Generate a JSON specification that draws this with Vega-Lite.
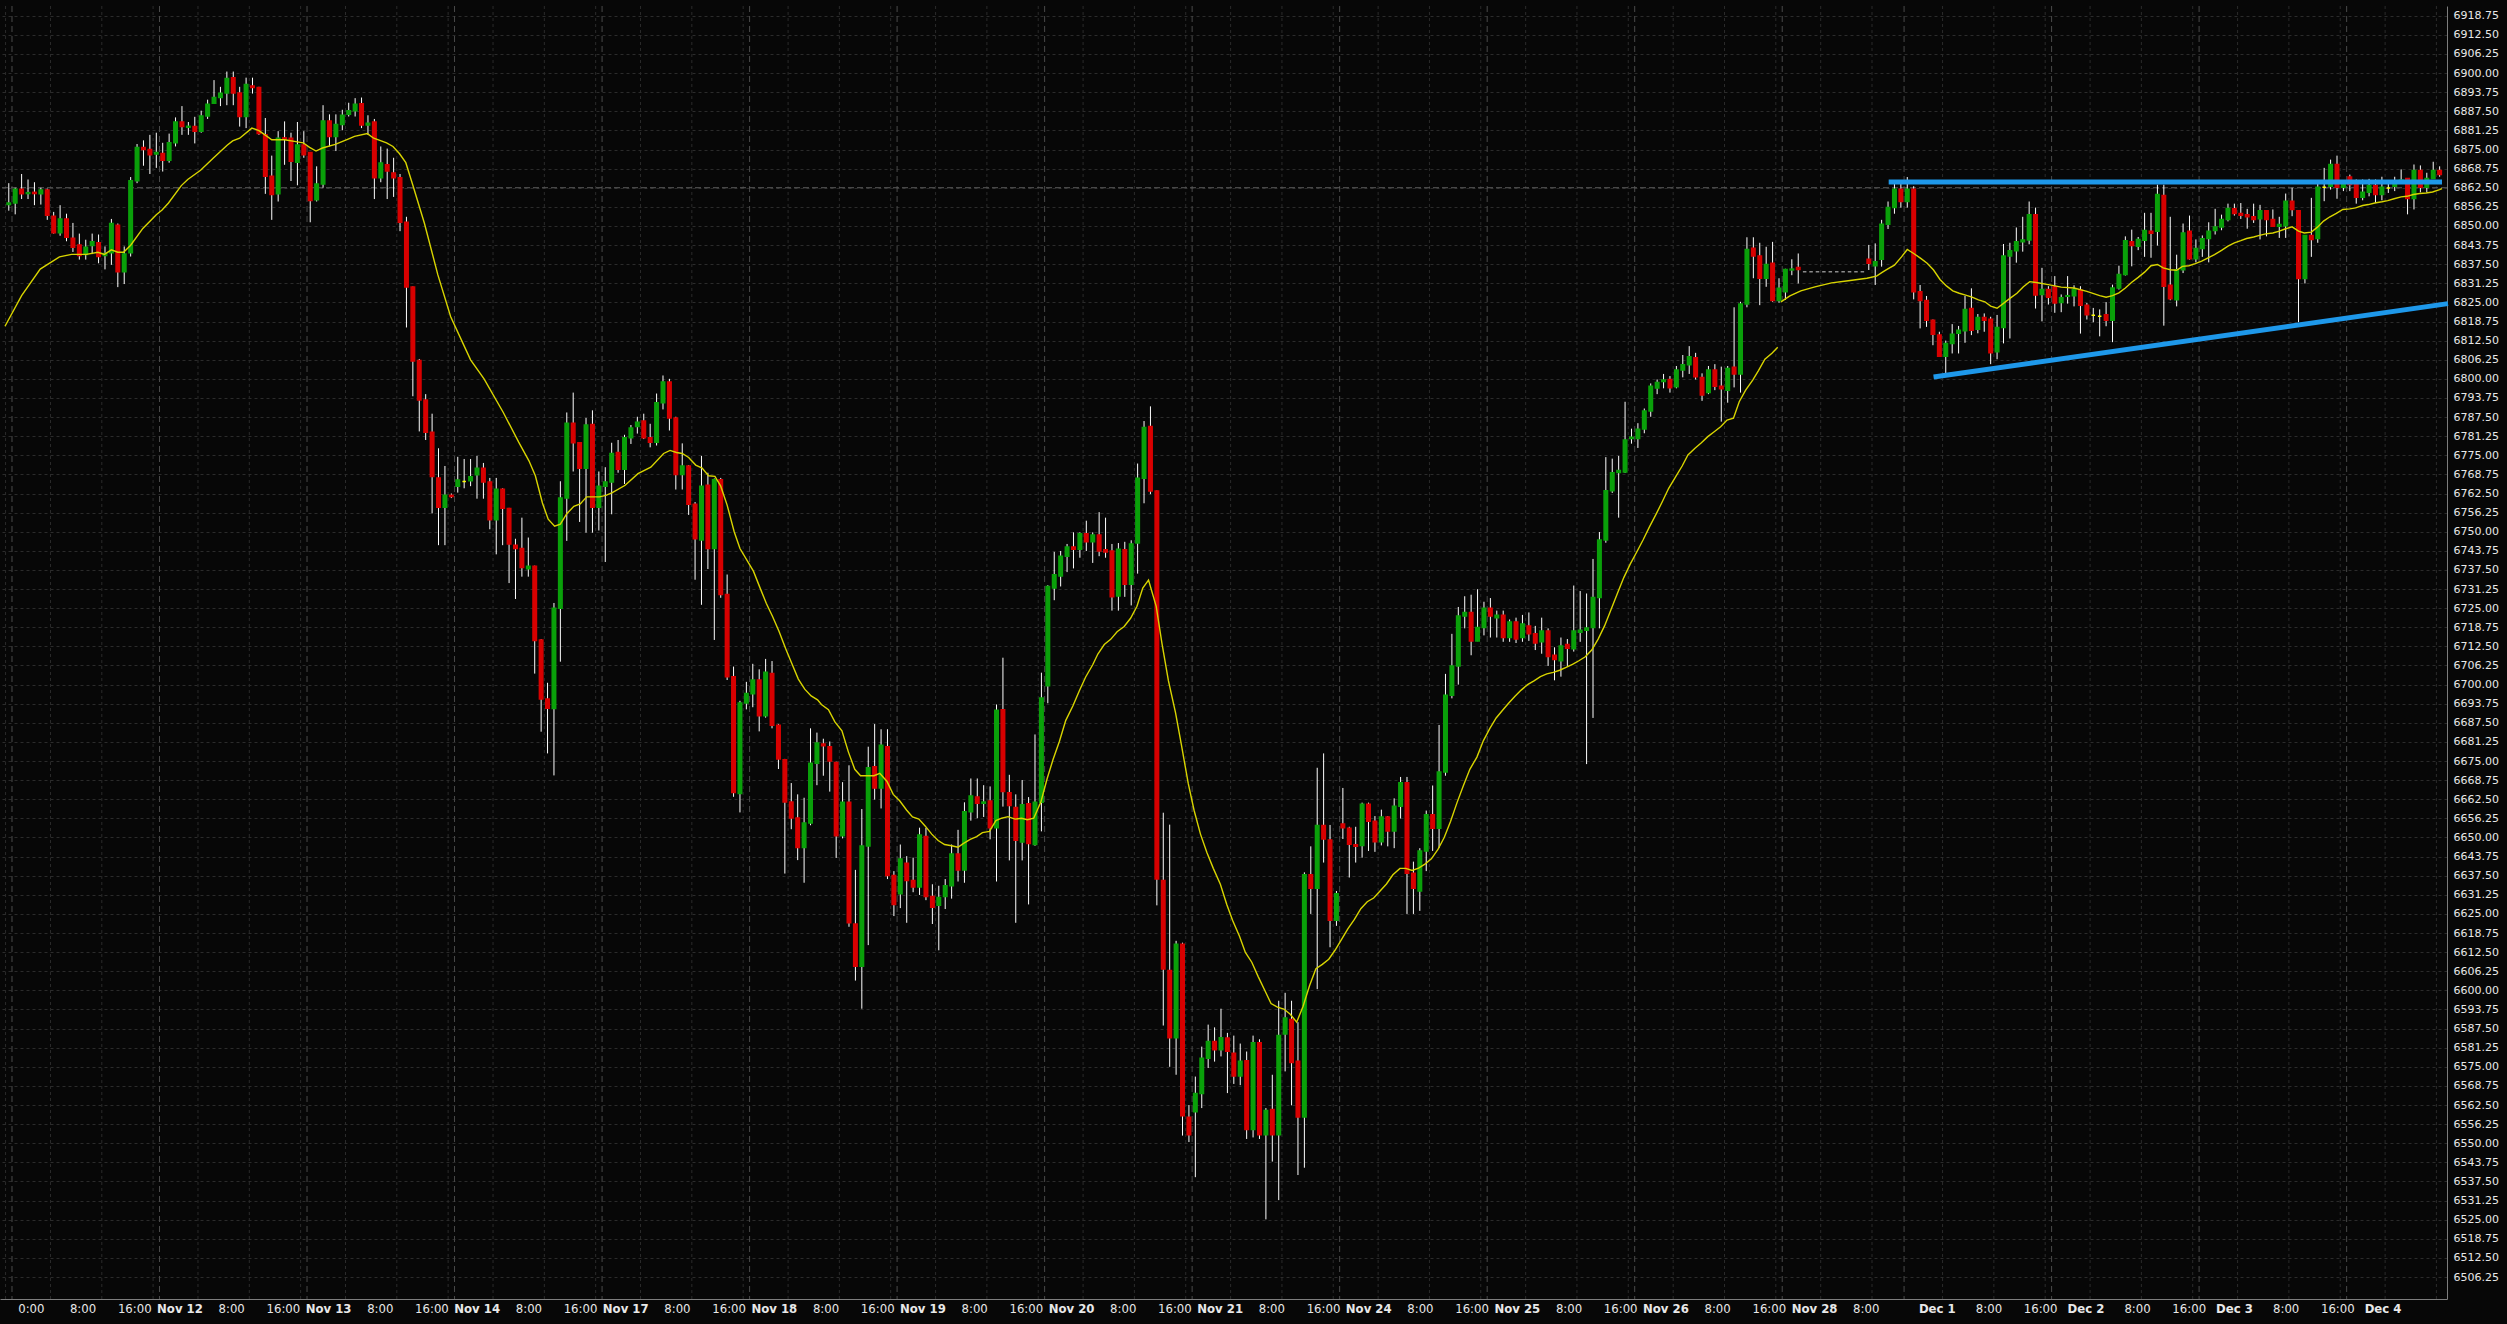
{
"$schema": "https://vega.github.io/schema/vega-lite/v6.json",
"width": 2447, "height": 1293,
"autosize": {"type": "none"},
"padding": {"left": 0, "top": 6, "right": 60, "bottom": 25},
"background": "#070707",
"config": {"view": {"stroke": null}, "axis": {"title": null}},
"params": [{"name": "xl", "value": {"3.44":"0:00","11.5":"8:00","19.56":"16:00","26.61":"Nov 12","34.67":"8:00","42.73":"16:00","49.78":"Nov 13","57.84":"8:00","65.9":"16:00","72.95":"Nov 14","81.01":"8:00","89.06":"16:00","96.11":"Nov 17","104.17":"8:00","112.23":"16:00","119.28":"Nov 18","127.34":"8:00","135.4":"16:00","142.45":"Nov 19","150.51":"8:00","158.57":"16:00","165.62":"Nov 20","173.68":"8:00","181.73":"16:00","188.79":"Nov 21","196.85":"8:00","204.9":"16:00","211.95":"Nov 24","220.01":"8:00","228.07":"16:00","235.12":"Nov 25","243.18":"8:00","251.24":"16:00","258.29":"Nov 26","266.35":"8:00","274.41":"16:00","281.46":"Nov 28","289.52":"8:00","300.6":"Dec 1","308.66":"8:00","316.71":"16:00","323.77":"Dec 2","331.82":"8:00","339.88":"16:00","346.93":"Dec 3","354.99":"8:00","363.05":"16:00","370.1":"Dec 4"}}],
"datasets": {
"days": [{"k":0.5},{"k":23.5},{"k":46.5},{"k":69.5},{"k":92.5},{"k":115.5},{"k":138.5},{"k":161.5},{"k":184.5},{"k":207.5},{"k":230.5},{"k":253.5},{"k":276.5},{"k":295.5},{"k":318.5},{"k":341.5},{"k":364.5}],
"fine": [{"k":-0.5},{"k":6.5},{"k":14.5},{"k":22.5},{"k":29.5},{"k":37.5},{"k":45.5},{"k":52.5},{"k":60.5},{"k":68.5},{"k":75.5},{"k":83.5},{"k":91.5},{"k":98.5},{"k":106.5},{"k":114.5},{"k":121.5},{"k":129.5},{"k":137.5},{"k":144.5},{"k":152.5},{"k":160.5},{"k":167.5},{"k":175.5},{"k":183.5},{"k":190.5},{"k":198.5},{"k":206.5},{"k":213.5},{"k":221.5},{"k":229.5},{"k":236.5},{"k":244.5},{"k":252.5},{"k":259.5},{"k":267.5},{"k":275.5},{"k":282.5},{"k":290.5},{"k":301.5},{"k":309.5},{"k":317.5},{"k":324.5},{"k":332.5},{"k":340.5},{"k":347.5},{"k":355.5},{"k":363.5},{"k":370.5},{"k":378.5}],
"trend": [{"g":"top","k":293.1,"p":6864.4},{"g":"top","k":379.37,"p":6864.4},{"g":"up","k":300.1,"p":6800.6},{"g":"up","k":380.3,"p":6824.6}],
"ohlc": [
{"k":0,"o":6857,"h":6864,"l":6855,"c":6857.5},
{"k":1,"o":6857.5,"h":6862.5,"l":6853.8,"c":6862},
{"k":2,"o":6862,"h":6867,"l":6858.8,"c":6860.5},
{"k":3,"o":6860.6,"h":6865.2,"l":6858.8,"c":6860.9},
{"k":4,"o":6861,"h":6864.3,"l":6856.8,"c":6860.6},
{"k":5,"o":6860.5,"h":6862.5,"l":6857,"c":6861.8},
{"k":6,"o":6861.8,"h":6862.2,"l":6852,"c":6853.5},
{"k":7,"o":6853.2,"h":6854.6,"l":6847.5,"c":6847.8},
{"k":8,"o":6847.8,"h":6856.8,"l":6846.8,"c":6852.3},
{"k":9,"o":6852.3,"h":6854,"l":6845,"c":6846.3},
{"k":10,"o":6846,"h":6851,"l":6841.5,"c":6843},
{"k":11,"o":6843.8,"h":6847.5,"l":6839,"c":6840.3},
{"k":12,"o":6840.7,"h":6845.5,"l":6839,"c":6843},
{"k":13,"o":6843.6,"h":6847.5,"l":6840.8,"c":6844.8},
{"k":14,"o":6844.5,"h":6847.2,"l":6837.8,"c":6840},
{"k":15,"o":6840.3,"h":6843.3,"l":6835.8,"c":6841},
{"k":16,"o":6841.2,"h":6852.3,"l":6837.3,"c":6850.8},
{"k":17,"o":6850.2,"h":6850.8,"l":6830,"c":6835},
{"k":18,"o":6835,"h":6843.3,"l":6831,"c":6840.8},
{"k":19,"o":6841.2,"h":6866,"l":6840,"c":6864.8},
{"k":20,"o":6864.8,"h":6876.8,"l":6864,"c":6875.7},
{"k":21,"o":6875.7,"h":6878,"l":6869.7,"c":6875},
{"k":22,"o":6875,"h":6879.8,"l":6867,"c":6873.3},
{"k":23,"o":6873.5,"h":6880.5,"l":6869,"c":6874},
{"k":24,"o":6873.7,"h":6877.2,"l":6867.8,"c":6871.5},
{"k":25,"o":6871.5,"h":6880.2,"l":6870.7,"c":6877.2},
{"k":26,"o":6877.2,"h":6885.5,"l":6876,"c":6884},
{"k":27,"o":6884,"h":6889.2,"l":6879.8,"c":6882.5},
{"k":28,"o":6882.3,"h":6884,"l":6879.8,"c":6882.6},
{"k":29,"o":6882.5,"h":6885.7,"l":6877,"c":6881},
{"k":30,"o":6881,"h":6887.7,"l":6880.5,"c":6886},
{"k":31,"o":6886,"h":6891.3,"l":6885,"c":6889.8},
{"k":32,"o":6890.1,"h":6897.7,"l":6890,"c":6892},
{"k":33,"o":6892,"h":6895.5,"l":6889.2,"c":6893.4},
{"k":34,"o":6893.5,"h":6900.5,"l":6889.5,"c":6898.2},
{"k":35,"o":6898.5,"h":6900.5,"l":6889.5,"c":6893.5},
{"k":36,"o":6893.5,"h":6895.5,"l":6882.5,"c":6885.8},
{"k":37,"o":6885.8,"h":6898.5,"l":6882,"c":6896.3},
{"k":38,"o":6895.8,"h":6898.5,"l":6893.3,"c":6895.3},
{"k":39,"o":6895.3,"h":6895.5,"l":6879.8,"c":6880.2},
{"k":40,"o":6879.8,"h":6885.3,"l":6860.5,"c":6866.3},
{"k":41,"o":6866.3,"h":6873,"l":6852,"c":6860.3},
{"k":42,"o":6860.5,"h":6881,"l":6858,"c":6878.7},
{"k":43,"o":6878.8,"h":6884.2,"l":6870,"c":6878.5},
{"k":44,"o":6878.7,"h":6880.5,"l":6864.7,"c":6871.2},
{"k":45,"o":6870.8,"h":6884,"l":6863.3,"c":6876.5},
{"k":46,"o":6876.5,"h":6881,"l":6872.3,"c":6873.3},
{"k":47,"o":6874,"h":6874.2,"l":6851.2,"c":6858.3},
{"k":48,"o":6858.6,"h":6869.5,"l":6858,"c":6863.7},
{"k":49,"o":6863.7,"h":6889.5,"l":6862.5,"c":6884.3},
{"k":50,"o":6884.3,"h":6886.5,"l":6876,"c":6879.3},
{"k":51,"o":6879.3,"h":6886.5,"l":6874.5,"c":6883.2},
{"k":52,"o":6883.2,"h":6888,"l":6881.3,"c":6886.2},
{"k":53,"o":6886.5,"h":6890.3,"l":6885.8,"c":6887.7},
{"k":54,"o":6887.7,"h":6891.8,"l":6885.8,"c":6889.8},
{"k":55,"o":6890,"h":6892,"l":6882,"c":6883},
{"k":56,"o":6883,"h":6886.2,"l":6879.8,"c":6883.6},
{"k":57,"o":6884,"h":6885,"l":6858.8,"c":6865.8},
{"k":58,"o":6865.8,"h":6876,"l":6864.3,"c":6870.6},
{"k":59,"o":6870,"h":6875.3,"l":6858.8,"c":6868},
{"k":60,"o":6867.3,"h":6872.3,"l":6859.5,"c":6865.8},
{"k":61,"o":6865.8,"h":6867,"l":6848.3,"c":6851.2},
{"k":62,"o":6851.2,"h":6853,"l":6816.8,"c":6830},
{"k":63,"o":6830,"h":6830.2,"l":6794.3,"c":6805.8},
{"k":64,"o":6806,"h":6806.5,"l":6782.8,"c":6793.1},
{"k":65,"o":6793.1,"h":6795,"l":6780,"c":6782.5},
{"k":66,"o":6782.5,"h":6788.6,"l":6756,"c":6768.1},
{"k":67,"o":6767.6,"h":6777.3,"l":6745.6,"c":6758},
{"k":68,"o":6758,"h":6771.5,"l":6745.6,"c":6761.9},
{"k":69,"o":6761.9,"h":6762.5,"l":6761,"c":6761.5},
{"k":70,"o":6764.9,"h":6774.5,"l":6762.8,"c":6766.9},
{"k":71,"o":6766.4,"h":6773.8,"l":6764.2,"c":6766.4},
{"k":72,"o":6766.7,"h":6773.8,"l":6764.9,"c":6768},
{"k":73,"o":6768.6,"h":6774.8,"l":6760.8,"c":6770.8},
{"k":74,"o":6770.8,"h":6772.5,"l":6760.8,"c":6766.3},
{"k":75,"o":6766.3,"h":6767.6,"l":6750.8,"c":6753.9},
{"k":76,"o":6753.9,"h":6767.6,"l":6742.6,"c":6763.9},
{"k":77,"o":6763.9,"h":6764.2,"l":6745.6,"c":6757.7},
{"k":78,"o":6757.6,"h":6757.8,"l":6733.2,"c":6746},
{"k":79,"o":6745.6,"h":6747.7,"l":6728,"c":6744.5},
{"k":80,"o":6744.5,"h":6754.6,"l":6735.3,"c":6738.3},
{"k":81,"o":6737.9,"h":6748.1,"l":6735.3,"c":6738.7},
{"k":82,"o":6738.7,"h":6738.9,"l":6703.6,"c":6714.4},
{"k":83,"o":6714.6,"h":6714.9,"l":6684.6,"c":6695.3},
{"k":84,"o":6695.3,"h":6700.6,"l":6677.5,"c":6692.3},
{"k":85,"o":6692.2,"h":6726.7,"l":6670.3,"c":6725},
{"k":86,"o":6725,"h":6766.5,"l":6707.5,"c":6761},
{"k":87,"o":6761,"h":6789,"l":6747,"c":6785.5},
{"k":88,"o":6785.5,"h":6795.5,"l":6769.7,"c":6779.1},
{"k":89,"o":6779.1,"h":6779.3,"l":6753.2,"c":6770.8},
{"k":90,"o":6770.8,"h":6787.2,"l":6749.7,"c":6784.9},
{"k":91,"o":6785.1,"h":6789.7,"l":6749.7,"c":6758},
{"k":92,"o":6758,"h":6769.7,"l":6750.4,"c":6764.9},
{"k":93,"o":6764.9,"h":6771.1,"l":6740.1,"c":6766.3},
{"k":94,"o":6766.3,"h":6779.1,"l":6755.7,"c":6775.6},
{"k":95,"o":6775.9,"h":6780,"l":6769.3,"c":6770.4},
{"k":96,"o":6770.4,"h":6781.7,"l":6765.6,"c":6780.7},
{"k":97,"o":6780.7,"h":6784.9,"l":6778.7,"c":6783.9},
{"k":98,"o":6784.4,"h":6787.6,"l":6782.1,"c":6785.8},
{"k":99,"o":6786.2,"h":6788.6,"l":6780.3,"c":6780.7},
{"k":100,"o":6780.7,"h":6785.3,"l":6777.6,"c":6779.3},
{"k":101,"o":6779.3,"h":6795.2,"l":6778.2,"c":6792.2},
{"k":102,"o":6792.2,"h":6801.1,"l":6790,"c":6799},
{"k":103,"o":6799,"h":6800,"l":6783.1,"c":6787.2},
{"k":104,"o":6787.2,"h":6787.6,"l":6763.8,"c":6768.7},
{"k":105,"o":6768.7,"h":6778.9,"l":6763.8,"c":6771.5},
{"k":106,"o":6771.5,"h":6771.8,"l":6755.5,"c":6759},
{"k":107,"o":6759,"h":6759.7,"l":6734.3,"c":6747.7},
{"k":108,"o":6747.3,"h":6774.8,"l":6726.1,"c":6764.9},
{"k":109,"o":6765.2,"h":6769.3,"l":6737.8,"c":6744.5},
{"k":110,"o":6744.5,"h":6767.4,"l":6714.6,"c":6767},
{"k":111,"o":6767,"h":6767.6,"l":6728.4,"c":6729.5},
{"k":112,"o":6729.5,"h":6736,"l":6701.5,"c":6702.6},
{"k":113,"o":6702.6,"h":6705.9,"l":6663.3,"c":6664.7},
{"k":114,"o":6664.4,"h":6694.7,"l":6658.2,"c":6694},
{"k":115,"o":6694,"h":6700.9,"l":6691.9,"c":6697.1},
{"k":116,"o":6697,"h":6706.8,"l":6692.6,"c":6701.5},
{"k":117,"o":6701.5,"h":6705,"l":6684.7,"c":6689.8},
{"k":118,"o":6689.8,"h":6708.4,"l":6689.2,"c":6704},
{"k":119,"o":6703.6,"h":6707.7,"l":6685.7,"c":6686.7},
{"k":120,"o":6686.7,"h":6687.1,"l":6672.4,"c":6675.7},
{"k":121,"o":6675.4,"h":6675.7,"l":6638.2,"c":6661.6},
{"k":122,"o":6661.6,"h":6667.8,"l":6652.7,"c":6656.4},
{"k":123,"o":6656.4,"h":6664.1,"l":6642.6,"c":6646.7},
{"k":124,"o":6646.7,"h":6663,"l":6635.2,"c":6654.7},
{"k":125,"o":6654.7,"h":6685.7,"l":6654,"c":6674.3},
{"k":126,"o":6674.3,"h":6684.3,"l":6667.1,"c":6680.9},
{"k":127,"o":6680.6,"h":6682.3,"l":6670.2,"c":6680},
{"k":128,"o":6679.7,"h":6681.4,"l":6665,"c":6675},
{"k":129,"o":6674.5,"h":6674.8,"l":6643.3,"c":6650.6},
{"k":130,"o":6650.6,"h":6668.1,"l":6649.7,"c":6661.5},
{"k":131,"o":6661.5,"h":6673.6,"l":6620.8,"c":6622.1},
{"k":132,"o":6621.7,"h":6639.4,"l":6603.2,"c":6607.9},
{"k":133,"o":6607.9,"h":6659.3,"l":6594,"c":6647.2},
{"k":134,"o":6647.2,"h":6679.7,"l":6614.8,"c":6672.8},
{"k":135,"o":6673.1,"h":6687.1,"l":6662.4,"c":6666.2},
{"k":136,"o":6666.2,"h":6685.4,"l":6659.5,"c":6680.2},
{"k":137,"o":6679.7,"h":6685.4,"l":6636.4,"c":6637.6},
{"k":138,"o":6637.6,"h":6639,"l":6624.3,"c":6628.1},
{"k":139,"o":6631.6,"h":6647.7,"l":6626.9,"c":6643},
{"k":140,"o":6641.6,"h":6643.9,"l":6622.1,"c":6635.9},
{"k":141,"o":6635.9,"h":6643.4,"l":6632.1,"c":6633.8},
{"k":142,"o":6633.8,"h":6653.2,"l":6631.2,"c":6650.8},
{"k":143,"o":6650.3,"h":6653.2,"l":6629.5,"c":6630.7},
{"k":144,"o":6630.7,"h":6634.7,"l":6621.7,"c":6627.2},
{"k":145,"o":6627.8,"h":6634.2,"l":6613.1,"c":6630.4},
{"k":146,"o":6630.7,"h":6636.4,"l":6626.6,"c":6634.2},
{"k":147,"o":6634.2,"h":6647.7,"l":6630,"c":6644.6},
{"k":148,"o":6644.6,"h":6652.5,"l":6635.6,"c":6639.4},
{"k":149,"o":6639.4,"h":6661.5,"l":6635.2,"c":6658.4},
{"k":150,"o":6658.4,"h":6669.3,"l":6655.5,"c":6663.6},
{"k":151,"o":6663.2,"h":6669.3,"l":6656.3,"c":6661.2},
{"k":152,"o":6661.2,"h":6667.1,"l":6656.7,"c":6661.6},
{"k":153,"o":6661.9,"h":6666.7,"l":6649.4,"c":6653.2},
{"k":154,"o":6653.2,"h":6693.5,"l":6635.6,"c":6691.6},
{"k":155,"o":6691.8,"h":6708.8,"l":6660.1,"c":6665},
{"k":156,"o":6664.6,"h":6670.5,"l":6642.5,"c":6660.5},
{"k":157,"o":6659.8,"h":6664.1,"l":6622.1,"c":6649.1},
{"k":158,"o":6648.5,"h":6668.8,"l":6642.5,"c":6660.7},
{"k":159,"o":6661,"h":6663.2,"l":6628.1,"c":6648},
{"k":160,"o":6647.7,"h":6683.7,"l":6647.3,"c":6661.5},
{"k":161,"o":6661.5,"h":6703.9,"l":6652,"c":6695.6},
{"k":162,"o":6699.6,"h":6732.5,"l":6693.9,"c":6732.1},
{"k":163,"o":6731.6,"h":6743.4,"l":6727.6,"c":6735.9},
{"k":164,"o":6735.5,"h":6743.7,"l":6732.1,"c":6742},
{"k":165,"o":6742,"h":6746,"l":6736.8,"c":6745},
{"k":166,"o":6745,"h":6749.8,"l":6738,"c":6744.3},
{"k":167,"o":6744.3,"h":6749.8,"l":6741.5,"c":6749.3},
{"k":168,"o":6749.3,"h":6753.6,"l":6743.7,"c":6746.7},
{"k":169,"o":6746.7,"h":6749.8,"l":6739.8,"c":6748.9},
{"k":170,"o":6748.9,"h":6756.4,"l":6742,"c":6743.7},
{"k":171,"o":6744.1,"h":6754.6,"l":6741.5,"c":6743.4},
{"k":172,"o":6743.7,"h":6746,"l":6724.2,"c":6728.7},
{"k":173,"o":6729,"h":6746.3,"l":6724.2,"c":6744.3},
{"k":174,"o":6744.1,"h":6746.7,"l":6728.7,"c":6732.8},
{"k":175,"o":6732.8,"h":6747.2,"l":6725.9,"c":6746},
{"k":176,"o":6746.3,"h":6772.3,"l":6736.3,"c":6767.5},
{"k":177,"o":6767.5,"h":6786.2,"l":6759.3,"c":6784.1},
{"k":178,"o":6784.4,"h":6791,"l":6762.3,"c":6763.3},
{"k":179,"o":6763.3,"h":6763.5,"l":6627.8,"c":6636.4},
{"k":180,"o":6635.9,"h":6658.1,"l":6588.5,"c":6607},
{"k":181,"o":6606.5,"h":6654.2,"l":6575,"c":6584.5},
{"k":182,"o":6584.5,"h":6616.2,"l":6572.4,"c":6615.1},
{"k":183,"o":6615.1,"h":6615.6,"l":6552.5,"c":6559},
{"k":184,"o":6558.5,"h":6562.5,"l":6550.4,"c":6552.8},
{"k":185,"o":6560.3,"h":6571.8,"l":6538.9,"c":6566.3},
{"k":186,"o":6566.3,"h":6581.6,"l":6561.5,"c":6577.8},
{"k":187,"o":6577.8,"h":6588.8,"l":6574.6,"c":6583.3},
{"k":188,"o":6583.3,"h":6587.9,"l":6576.7,"c":6580.6},
{"k":189,"o":6580.6,"h":6594,"l":6578.4,"c":6584.5},
{"k":190,"o":6584.4,"h":6586.1,"l":6566.4,"c":6580.1},
{"k":191,"o":6579.4,"h":6585.2,"l":6569.4,"c":6572},
{"k":192,"o":6572,"h":6582.6,"l":6569,"c":6576.8},
{"k":193,"o":6577,"h":6580,"l":6551.4,"c":6554.5},
{"k":194,"o":6554.5,"h":6585.2,"l":6551.9,"c":6582.9},
{"k":195,"o":6582.9,"h":6584,"l":6551.4,"c":6552.8},
{"k":196,"o":6552.8,"h":6561.5,"l":6525.1,"c":6560.7},
{"k":197,"o":6561,"h":6572.4,"l":6544,"c":6552.8},
{"k":198,"o":6552.8,"h":6596.6,"l":6531.4,"c":6585.2},
{"k":199,"o":6585.7,"h":6599.2,"l":6573.5,"c":6591},
{"k":200,"o":6590.5,"h":6596.6,"l":6562.4,"c":6576.4},
{"k":201,"o":6576.8,"h":6589.6,"l":6539.6,"c":6558.6},
{"k":202,"o":6558.6,"h":6638.6,"l":6542,"c":6637.8},
{"k":203,"o":6637.8,"h":6647.1,"l":6625,"c":6633.4},
{"k":204,"o":6633.4,"h":6672.8,"l":6600.4,"c":6653.9},
{"k":205,"o":6653.9,"h":6677.5,"l":6641.8,"c":6649.5},
{"k":206,"o":6649.2,"h":6654.1,"l":6614.1,"c":6622.9},
{"k":207,"o":6622.9,"h":6632.5,"l":6621.1,"c":6631.6},
{"k":208,"o":6654.4,"h":6666.2,"l":6649.5,"c":6653.2},
{"k":209,"o":6653,"h":6653.5,"l":6636.9,"c":6647.8},
{"k":210,"o":6647.6,"h":6653.5,"l":6641.8,"c":6647.1},
{"k":211,"o":6647.4,"h":6661.4,"l":6643.4,"c":6660.9},
{"k":212,"o":6660.9,"h":6661.4,"l":6645.6,"c":6655.3},
{"k":213,"o":6655.3,"h":6657,"l":6645.3,"c":6648.6},
{"k":214,"o":6648.6,"h":6659.1,"l":6647.4,"c":6656.7},
{"k":215,"o":6656.7,"h":6657,"l":6647.1,"c":6652.1},
{"k":216,"o":6652.1,"h":6662.8,"l":6646.5,"c":6660.2},
{"k":217,"o":6660.2,"h":6669.8,"l":6656.2,"c":6667.9},
{"k":218,"o":6667.9,"h":6669.8,"l":6625,"c":6638.3},
{"k":219,"o":6638.3,"h":6642.1,"l":6625,"c":6633.4},
{"k":220,"o":6632.5,"h":6646.5,"l":6626,"c":6645.6},
{"k":221,"o":6645.6,"h":6658.8,"l":6639,"c":6657.4},
{"k":222,"o":6657.4,"h":6667,"l":6645.6,"c":6653},
{"k":223,"o":6653,"h":6686.8,"l":6646.5,"c":6671.4},
{"k":224,"o":6671.4,"h":6703.5,"l":6670.2,"c":6696.5},
{"k":225,"o":6696.5,"h":6716.6,"l":6695.5,"c":6706.1},
{"k":226,"o":6706.1,"h":6725.4,"l":6700,"c":6722.4},
{"k":227,"o":6722.4,"h":6728.9,"l":6718.4,"c":6723.6},
{"k":228,"o":6723.6,"h":6729.4,"l":6709.6,"c":6714.3},
{"k":229,"o":6714.3,"h":6731.2,"l":6714.2,"c":6718.7},
{"k":230,"o":6718.7,"h":6727.1,"l":6716.1,"c":6725},
{"k":231,"o":6725,"h":6728.3,"l":6715.4,"c":6722.4},
{"k":232,"o":6721.9,"h":6724.2,"l":6715.4,"c":6722.7},
{"k":233,"o":6722.7,"h":6724.2,"l":6714,"c":6715.4},
{"k":234,"o":6715.4,"h":6721.3,"l":6714,"c":6720.5},
{"k":235,"o":6720.5,"h":6721.9,"l":6713.6,"c":6714.9},
{"k":236,"o":6715.4,"h":6722.8,"l":6714,"c":6719.8},
{"k":237,"o":6719.2,"h":6723.6,"l":6714.3,"c":6716.6},
{"k":238,"o":6716.6,"h":6719.2,"l":6711.3,"c":6713.6},
{"k":239,"o":6714,"h":6721.9,"l":6710.1,"c":6717.5},
{"k":240,"o":6717.5,"h":6718.4,"l":6706.1,"c":6709.2},
{"k":241,"o":6709.6,"h":6712.2,"l":6701.4,"c":6708.2},
{"k":242,"o":6707.8,"h":6715.4,"l":6702.6,"c":6712.6},
{"k":243,"o":6713.1,"h":6714.9,"l":6706.1,"c":6711.9},
{"k":244,"o":6711.7,"h":6732.4,"l":6710.8,"c":6717.5},
{"k":245,"o":6717.1,"h":6730.6,"l":6714,"c":6717.8},
{"k":246,"o":6717.8,"h":6729.8,"l":6674,"c":6718.5},
{"k":247,"o":6718.7,"h":6741.1,"l":6689.1,"c":6728.5},
{"k":248,"o":6728.5,"h":6749.9,"l":6718.4,"c":6747.3},
{"k":249,"o":6747.3,"h":6774.4,"l":6746.4,"c":6763.4},
{"k":250,"o":6763.4,"h":6773.9,"l":6762.7,"c":6769.3},
{"k":251,"o":6769.4,"h":6774.8,"l":6754.6,"c":6770},
{"k":252,"o":6769.5,"h":6792.5,"l":6769.2,"c":6780},
{"k":253,"o":6780.5,"h":6783.7,"l":6778.8,"c":6780.9},
{"k":254,"o":6780.5,"h":6785.5,"l":6777.4,"c":6783.5},
{"k":255,"o":6783.6,"h":6790.3,"l":6782.2,"c":6789.5},
{"k":256,"o":6789.5,"h":6798.5,"l":6787.6,"c":6797.6},
{"k":257,"o":6797,"h":6799.8,"l":6795,"c":6798.8},
{"k":258,"o":6799.1,"h":6801.6,"l":6796.9,"c":6799.6},
{"k":259,"o":6799.8,"h":6800.9,"l":6795.5,"c":6797.1},
{"k":260,"o":6797.4,"h":6804.2,"l":6796.9,"c":6802.9},
{"k":261,"o":6802.9,"h":6807.8,"l":6800.5,"c":6804.6},
{"k":262,"o":6804.6,"h":6810.7,"l":6801.6,"c":6807.2},
{"k":263,"o":6806.9,"h":6808.5,"l":6799.8,"c":6800.7},
{"k":264,"o":6800.4,"h":6801.8,"l":6792.8,"c":6794.7},
{"k":265,"o":6795.5,"h":6804.2,"l":6795,"c":6802.9},
{"k":266,"o":6802.9,"h":6804.8,"l":6796.3,"c":6797.6},
{"k":267,"o":6797.6,"h":6804,"l":6786,"c":6796.8},
{"k":268,"o":6796.3,"h":6804.2,"l":6792.2,"c":6803.4},
{"k":269,"o":6803.8,"h":6823.4,"l":6797.2,"c":6801.6},
{"k":270,"o":6801.6,"h":6825.2,"l":6795.5,"c":6824.5},
{"k":271,"o":6824.5,"h":6846.3,"l":6823.4,"c":6842.3},
{"k":272,"o":6842.7,"h":6846.3,"l":6832.9,"c":6840.2},
{"k":273,"o":6840.2,"h":6844.5,"l":6824.1,"c":6832.9},
{"k":274,"o":6832.9,"h":6843.2,"l":6830.1,"c":6837.4},
{"k":275,"o":6837.8,"h":6844.8,"l":6825.2,"c":6825.6},
{"k":276,"o":6825.6,"h":6832.9,"l":6824.9,"c":6829.6},
{"k":277,"o":6828.5,"h":6836,"l":6825.8,"c":6835.8},
{"k":278,"o":6835.6,"h":6839.1,"l":6833.9,"c":6835.9},
{"k":279,"o":6836.4,"h":6841,"l":6831.2,"c":6835.8},
{"k":280,"o":6835,"h":6835,"l":6835,"c":6835},
{"k":281,"o":6835,"h":6835,"l":6835,"c":6835},
{"k":282,"o":6835,"h":6835,"l":6835,"c":6835},
{"k":283,"o":6835,"h":6835,"l":6835,"c":6835},
{"k":284,"o":6835,"h":6835,"l":6835,"c":6835},
{"k":285,"o":6835,"h":6835,"l":6835,"c":6835},
{"k":286,"o":6835,"h":6835,"l":6835,"c":6835},
{"k":287,"o":6835,"h":6835,"l":6835,"c":6835},
{"k":288,"o":6835,"h":6835,"l":6835,"c":6835},
{"k":289,"o":6835,"h":6835,"l":6835,"c":6835},
{"k":290,"o":6839.1,"h":6843.8,"l":6835.6,"c":6837.8},
{"k":291,"o":6837,"h":6844.3,"l":6830.7,"c":6838.3},
{"k":292,"o":6839.1,"h":6852,"l":6836.7,"c":6850.6},
{"k":293,"o":6850.6,"h":6858,"l":6849,"c":6856},
{"k":294,"o":6856,"h":6865,"l":6854,"c":6862},
{"k":295,"o":6862,"h":6864.5,"l":6856,"c":6858},
{"k":296,"o":6858,"h":6866,"l":6856,"c":6862},
{"k":297,"o":6862,"h":6863,"l":6826,"c":6828.5},
{"k":298,"o":6828.5,"h":6830.7,"l":6816.5,"c":6825.6},
{"k":299,"o":6825.6,"h":6827.1,"l":6817,"c":6819.2},
{"k":300,"o":6819.2,"h":6819.4,"l":6811,"c":6814.6},
{"k":301,"o":6814.3,"h":6815.4,"l":6807.2,"c":6807.4},
{"k":302,"o":6807.4,"h":6812.5,"l":6801.8,"c":6811.6},
{"k":303,"o":6811.6,"h":6817.9,"l":6808.3,"c":6814.6},
{"k":304,"o":6814.9,"h":6817.3,"l":6808.3,"c":6815.9},
{"k":305,"o":6815.7,"h":6827.1,"l":6811.8,"c":6822.7},
{"k":306,"o":6823,"h":6829.6,"l":6814.3,"c":6815.9},
{"k":307,"o":6816.2,"h":6821.2,"l":6814.9,"c":6820.1},
{"k":308,"o":6820.1,"h":6821.4,"l":6815.4,"c":6819.2},
{"k":309,"o":6819.5,"h":6820.3,"l":6804.8,"c":6808.5},
{"k":310,"o":6808.9,"h":6820.9,"l":6806.4,"c":6816.8},
{"k":311,"o":6816.8,"h":6844.1,"l":6811.6,"c":6840.2},
{"k":312,"o":6840.2,"h":6844.5,"l":6813.2,"c":6841.9},
{"k":313,"o":6841.9,"h":6849.5,"l":6838,"c":6844.8},
{"k":314,"o":6844.8,"h":6853,"l":6841.6,"c":6845.4},
{"k":315,"o":6845.4,"h":6858,"l":6844,"c":6853.7},
{"k":316,"o":6853.7,"h":6856,"l":6823,"c":6827.4},
{"k":317,"o":6827.6,"h":6836.3,"l":6818.8,"c":6829.2},
{"k":318,"o":6829.2,"h":6830.3,"l":6824.3,"c":6826.7},
{"k":319,"o":6830,"h":6833.6,"l":6821.6,"c":6824.8},
{"k":320,"o":6825,"h":6827.6,"l":6821.8,"c":6826.5},
{"k":321,"o":6827,"h":6833.6,"l":6824.6,"c":6827.2},
{"k":322,"o":6827.2,"h":6830.6,"l":6823.7,"c":6829.2},
{"k":323,"o":6829,"h":6830.3,"l":6814.8,"c":6824.1},
{"k":324,"o":6824.1,"h":6824.8,"l":6819.4,"c":6821},
{"k":325,"o":6820.8,"h":6823.2,"l":6818.5,"c":6820.8},
{"k":326,"o":6820.5,"h":6822.7,"l":6813.9,"c":6820.5},
{"k":327,"o":6821,"h":6825.1,"l":6817.2,"c":6819.2},
{"k":328,"o":6819.2,"h":6830.8,"l":6812,"c":6829.7},
{"k":329,"o":6829.7,"h":6837,"l":6829.2,"c":6834.1},
{"k":330,"o":6834.1,"h":6846.6,"l":6833.8,"c":6845.2},
{"k":331,"o":6844.8,"h":6848.8,"l":6836.8,"c":6843.6},
{"k":332,"o":6843.4,"h":6846.4,"l":6842.1,"c":6845.6},
{"k":333,"o":6845.3,"h":6854.3,"l":6839.9,"c":6848.5},
{"k":334,"o":6848.3,"h":6854.3,"l":6839.6,"c":6847.6},
{"k":335,"o":6848.3,"h":6863.5,"l":6843.6,"c":6860.3},
{"k":336,"o":6860,"h":6863.5,"l":6817.4,"c":6830.3},
{"k":337,"o":6830.6,"h":6853,"l":6825.7,"c":6826.2},
{"k":338,"o":6825.9,"h":6840.6,"l":6823.7,"c":6835.7},
{"k":339,"o":6835.7,"h":6850.8,"l":6834.6,"c":6847.7},
{"k":340,"o":6848.3,"h":6853.4,"l":6839,"c":6839.3},
{"k":341,"o":6839.3,"h":6845.6,"l":6838.1,"c":6842.6},
{"k":342,"o":6842.6,"h":6846.9,"l":6839.9,"c":6845.8},
{"k":343,"o":6845.9,"h":6851.2,"l":6838.1,"c":6848.3},
{"k":344,"o":6848.5,"h":6855.6,"l":6847.2,"c":6849.7},
{"k":345,"o":6849.7,"h":6853.7,"l":6848.6,"c":6852.1},
{"k":346,"o":6852.1,"h":6857.3,"l":6851.5,"c":6855.7},
{"k":347,"o":6855.6,"h":6857.3,"l":6853.4,"c":6854.1},
{"k":348,"o":6854.1,"h":6857.5,"l":6852.3,"c":6853.5},
{"k":349,"o":6853.7,"h":6855.6,"l":6849.1,"c":6853},
{"k":350,"o":6853,"h":6857.3,"l":6851,"c":6852.1},
{"k":351,"o":6852.4,"h":6856.9,"l":6845.6,"c":6855},
{"k":352,"o":6855,"h":6855.2,"l":6846.6,"c":6852.1},
{"k":353,"o":6852.1,"h":6855.4,"l":6849.7,"c":6849.9},
{"k":354,"o":6849.9,"h":6853,"l":6846.1,"c":6850.5},
{"k":355,"o":6850.1,"h":6860.6,"l":6846.1,"c":6858.1},
{"k":356,"o":6858.1,"h":6862.5,"l":6853.2,"c":6855.4},
{"k":357,"o":6855,"h":6855.2,"l":6818.5,"c":6832.8},
{"k":358,"o":6832.8,"h":6847,"l":6831.2,"c":6846.9},
{"k":359,"o":6846.9,"h":6859.2,"l":6839.9,"c":6845.6},
{"k":360,"o":6845.9,"h":6864.6,"l":6844.5,"c":6862.7},
{"k":361,"o":6862.7,"h":6869,"l":6858.1,"c":6862.7},
{"k":362,"o":6863,"h":6871.7,"l":6861.9,"c":6870.1},
{"k":363,"o":6870.1,"h":6873,"l":6858.9,"c":6862.7},
{"k":364,"o":6862.7,"h":6865,"l":6861.4,"c":6863.8},
{"k":365,"o":6866,"h":6866.8,"l":6861.4,"c":6863.6},
{"k":366,"o":6863.6,"h":6865.2,"l":6857.3,"c":6859.4},
{"k":367,"o":6859.4,"h":6865.2,"l":6858.4,"c":6861},
{"k":368,"o":6861,"h":6865.4,"l":6859.7,"c":6863.2},
{"k":369,"o":6863.2,"h":6865.2,"l":6857.5,"c":6860.3},
{"k":370,"o":6860.3,"h":6866.1,"l":6858.4,"c":6862.7},
{"k":371,"o":6862.4,"h":6864.1,"l":6860.8,"c":6862.4},
{"k":372,"o":6863,"h":6866.1,"l":6861.4,"c":6864.6},
{"k":373,"o":6864.8,"h":6868.5,"l":6864.3,"c":6865},
{"k":374,"o":6865.5,"h":6865.6,"l":6853.8,"c":6859},
{"k":375,"o":6859,"h":6870.1,"l":6855.4,"c":6868.1},
{"k":376,"o":6868.1,"h":6869.8,"l":6861,"c":6862.7},
{"k":377,"o":6862.7,"h":6867.4,"l":6861,"c":6865.5},
{"k":378,"o":6865.5,"h":6871,"l":6865.4,"c":6868.1},
{"k":379,"o":6868.1,"h":6869.5,"l":6866.1,"c":6866.8}
],
"ma": [
{"s":1,"k":-0.59,"v":6817.2},{"s":1,"k":2,"v":6827.2},{"s":1,"k":4.9,"v":6835.9},{"s":1,"k":7.9,"v":6839.9},{"s":1,"k":9.8,"v":6840.7},{"s":1,"k":12.1,"v":6840.7},{"s":1,"k":13.9,"v":6841.4},{"s":1,"k":14.9,"v":6840.7},{"s":1,"k":16,"v":6842.2},{"s":1,"k":17,"v":6841.4},{"s":1,"k":17.9,"v":6841.4},{"s":1,"k":19,"v":6843.7},{"s":1,"k":20.9,"v":6849.2},{"s":1,"k":23,"v":6853.7},{"s":1,"k":23.9,"v":6855.2},{"s":1,"k":24.9,"v":6857.5},{"s":1,"k":26.9,"v":6863.2},{"s":1,"k":27.9,"v":6865.2},{"s":1,"k":29.9,"v":6868.2},{"s":1,"k":31.9,"v":6872.2},{"s":1,"k":34,"v":6876.3},{"s":1,"k":34.9,"v":6877.8},{"s":1,"k":36,"v":6878.7},{"s":1,"k":37.9,"v":6882},{"s":1,"k":39,"v":6881.2},{"s":1,"k":40,"v":6879.7},{"s":1,"k":41,"v":6878.2},{"s":1,"k":43,"v":6878.2},{"s":1,"k":45,"v":6877.5},{"s":1,"k":45.9,"v":6877.2},{"s":1,"k":46.9,"v":6875.7},{"s":1,"k":47.9,"v":6874.5},{"s":1,"k":48.9,"v":6875.5},{"s":1,"k":50.9,"v":6876.7},{"s":1,"k":53,"v":6878.5},{"s":1,"k":53.9,"v":6879.3},{"s":1,"k":55.9,"v":6880.2},{"s":1,"k":56.9,"v":6878.7},{"s":1,"k":58.9,"v":6877.2},{"s":1,"k":59.9,"v":6876},{"s":1,"k":60.9,"v":6873.7},{"s":1,"k":61.9,"v":6870.7},{"s":1,"k":63,"v":6863.3},{"s":1,"k":64.8,"v":6850.9},{"s":1,"k":66.9,"v":6834},{"s":1,"k":68.9,"v":6820.3},{"s":1,"k":71.3,"v":6809.4},{"s":1,"k":72,"v":6806.2},{"s":1,"k":74.1,"v":6800},{"s":1,"k":77.1,"v":6789},{"s":1,"k":79.5,"v":6779.3},{"s":1,"k":81.1,"v":6773.2},{"s":1,"k":82.1,"v":6768.3},{"s":1,"k":83.2,"v":6759.4},{"s":1,"k":84.1,"v":6754.1},{"s":1,"k":85.1,"v":6751.8},{"s":1,"k":86,"v":6752.5},{"s":1,"k":87,"v":6755.9},{"s":1,"k":88.1,"v":6758.3},{"s":1,"k":89.1,"v":6759.1},{"s":1,"k":90.1,"v":6761.4},{"s":1,"k":92.1,"v":6761.4},{"s":1,"k":93.1,"v":6761.9},{"s":1,"k":94.1,"v":6762.8},{"s":1,"k":96.1,"v":6765.2},{"s":1,"k":98.1,"v":6769},{"s":1,"k":100.1,"v":6771.1},{"s":1,"k":102.1,"v":6775.6},{"s":1,"k":103.1,"v":6776.6},{"s":1,"k":104.1,"v":6775.9},{"s":1,"k":105,"v":6775.6},{"s":1,"k":106,"v":6774.3},{"s":1,"k":107.1,"v":6771.8},{"s":1,"k":108.1,"v":6770.8},{"s":1,"k":109.1,"v":6768.3},{"s":1,"k":110.1,"v":6768.1},{"s":1,"k":111,"v":6764.9},{"s":1,"k":112,"v":6758.7},{"s":1,"k":113.1,"v":6750},{"s":1,"k":114,"v":6744.5},{"s":1,"k":116.1,"v":6737.1},{"s":1,"k":117.1,"v":6731.8},{"s":1,"k":118.1,"v":6726.6},{"s":1,"k":119.1,"v":6722.2},{"s":1,"k":120.1,"v":6717.4},{"s":1,"k":121.1,"v":6711.9},{"s":1,"k":122.1,"v":6706.8},{"s":1,"k":123.1,"v":6701.8},{"s":1,"k":124.1,"v":6698.5},{"s":1,"k":125.1,"v":6696.3},{"s":1,"k":126.1,"v":6695},{"s":1,"k":126.7,"v":6693.5},{"s":1,"k":127.8,"v":6691.8},{"s":1,"k":128.8,"v":6687.8},{"s":1,"k":129.9,"v":6684.9},{"s":1,"k":130.9,"v":6678},{"s":1,"k":131.9,"v":6672.3},{"s":1,"k":132.8,"v":6670.2},{"s":1,"k":134.9,"v":6670.2},{"s":1,"k":135.8,"v":6671},{"s":1,"k":136.9,"v":6668.4},{"s":1,"k":137.9,"v":6664.1},{"s":1,"k":138.9,"v":6662},{"s":1,"k":140,"v":6658.9},{"s":1,"k":140.9,"v":6656.7},{"s":1,"k":141.9,"v":6656},{"s":1,"k":142.9,"v":6653.7},{"s":1,"k":143.9,"v":6651.1},{"s":1,"k":144.9,"v":6649},{"s":1,"k":145.9,"v":6647.7},{"s":1,"k":147,"v":6647.3},{"s":1,"k":148,"v":6646.8},{"s":1,"k":148.8,"v":6648},{"s":1,"k":149.9,"v":6649.4},{"s":1,"k":150.9,"v":6650.3},{"s":1,"k":151.8,"v":6651.6},{"s":1,"k":152.9,"v":6652},{"s":1,"k":153.9,"v":6655.5},{"s":1,"k":154.8,"v":6656.3},{"s":1,"k":155.8,"v":6656.8},{"s":1,"k":156.9,"v":6656},{"s":1,"k":157.9,"v":6656.3},{"s":1,"k":158.8,"v":6655.8},{"s":1,"k":159.8,"v":6656.3},{"s":1,"k":160.9,"v":6661.5},{"s":1,"k":161.9,"v":6669.3},{"s":1,"k":162.8,"v":6675.4},{"s":1,"k":163.8,"v":6681.4},{"s":1,"k":164.8,"v":6688.3},{"s":1,"k":165.9,"v":6693},{"s":1,"k":166.9,"v":6697.9},{"s":1,"k":167.9,"v":6702.5},{"s":1,"k":169,"v":6706.5},{"s":1,"k":169.8,"v":6710},{"s":1,"k":170.8,"v":6713.1},{"s":1,"k":171.8,"v":6714.8},{"s":1,"k":172.8,"v":6717.3},{"s":1,"k":173.9,"v":6719},{"s":1,"k":174.9,"v":6721.7},{"s":1,"k":175.9,"v":6725.6},{"s":1,"k":176.8,"v":6731.6},{"s":1,"k":177.7,"v":6734.2},{"s":1,"k":178.9,"v":6725.6},{"s":1,"k":179.8,"v":6713.4},{"s":1,"k":180.8,"v":6701.3},{"s":1,"k":181.9,"v":6690.9},{"s":1,"k":182.8,"v":6680.6},{"s":1,"k":183.9,"v":6667.6},{"s":1,"k":184.8,"v":6658.9},{"s":1,"k":185.8,"v":6651.1},{"s":1,"k":186.8,"v":6645.1},{"s":1,"k":187.8,"v":6639.9},{"s":1,"k":188.9,"v":6634.7},{"s":1,"k":189.9,"v":6628.1},{"s":1,"k":190.8,"v":6622.9},{"s":1,"k":191.9,"v":6617.6},{"s":1,"k":192.8,"v":6612.4},{"s":1,"k":193.8,"v":6609.2},{"s":1,"k":194.8,"v":6604.5},{"s":1,"k":195.8,"v":6600.1},{"s":1,"k":196.8,"v":6595.7},{"s":1,"k":197.8,"v":6594.5},{"s":1,"k":198.8,"v":6593.9},{"s":1,"k":199.8,"v":6592.2},{"s":1,"k":200.8,"v":6589.6},{"s":1,"k":201.8,"v":6594.8},{"s":1,"k":202.8,"v":6601.5},{"s":1,"k":203.8,"v":6607.1},{"s":1,"k":204.8,"v":6608.5},{"s":1,"k":205.8,"v":6610.2},{"s":1,"k":206.8,"v":6613.2},{"s":1,"k":207.8,"v":6616.7},{"s":1,"k":208.8,"v":6620.2},{"s":1,"k":209.8,"v":6623.2},{"s":1,"k":210.8,"v":6626.7},{"s":1,"k":211.8,"v":6629},{"s":1,"k":212.8,"v":6630.2},{"s":1,"k":213.8,"v":6632.5},{"s":1,"k":214.8,"v":6634.8},{"s":1,"k":215.8,"v":6637.8},{"s":1,"k":216.9,"v":6639.9},{"s":1,"k":217.8,"v":6639.9},{"s":1,"k":218.8,"v":6639.2},{"s":1,"k":219.8,"v":6640},{"s":1,"k":220.8,"v":6641.3},{"s":1,"k":221.8,"v":6643},{"s":1,"k":222.8,"v":6646},{"s":1,"k":223.8,"v":6650},{"s":1,"k":224.8,"v":6655.3},{"s":1,"k":225.8,"v":6661.4},{"s":1,"k":226.8,"v":6667},{"s":1,"k":227.8,"v":6672.3},{"s":1,"k":228.9,"v":6676.3},{"s":1,"k":229.9,"v":6681.6},{"s":1,"k":230.9,"v":6685.6},{"s":1,"k":231.9,"v":6689.1},{"s":1,"k":232.9,"v":6691.6},{"s":1,"k":233.8,"v":6693.8},{"s":1,"k":234.8,"v":6696.1},{"s":1,"k":235.8,"v":6698.2},{"s":1,"k":236.8,"v":6700},{"s":1,"k":237.8,"v":6701.2},{"s":1,"k":238.8,"v":6702.6},{"s":1,"k":239.8,"v":6703.5},{"s":1,"k":240.8,"v":6704},{"s":1,"k":241.8,"v":6704.7},{"s":1,"k":242.8,"v":6705.6},{"s":1,"k":243.8,"v":6706.6},{"s":1,"k":244.8,"v":6707.8},{"s":1,"k":245.8,"v":6709.1},{"s":1,"k":246.8,"v":6711.3},{"s":1,"k":247.8,"v":6714.9},{"s":1,"k":248.8,"v":6719.2},{"s":1,"k":249.8,"v":6724.5},{"s":1,"k":250.8,"v":6729.8},{"s":1,"k":251.8,"v":6735},{"s":1,"k":252.8,"v":6739.4},{"s":1,"k":253.8,"v":6743.3},{"s":1,"k":254.8,"v":6747.3},{"s":1,"k":255.8,"v":6751.6},{"s":1,"k":256.9,"v":6756},{"s":1,"k":257.8,"v":6759.8},{"s":1,"k":258.8,"v":6764.2},{"s":1,"k":259.9,"v":6768},{"s":1,"k":260.9,"v":6771.5},{"s":1,"k":261.8,"v":6775.1},{"s":1,"k":262.9,"v":6777.3},{"s":1,"k":263.9,"v":6779.1},{"s":1,"k":264.9,"v":6781.1},{"s":1,"k":265.9,"v":6782.7},{"s":1,"k":266.9,"v":6784.3},{"s":1,"k":267.9,"v":6786.5},{"s":1,"k":268.9,"v":6787.1},{"s":1,"k":269.8,"v":6792.5},{"s":1,"k":270.8,"v":6796.3},{"s":1,"k":271.9,"v":6799.6},{"s":1,"k":272.8,"v":6802.7},{"s":1,"k":273.8,"v":6806.4},{"s":1,"k":274.9,"v":6808.4},{"s":1,"k":275.8,"v":6810.3},
{"s":2,"k":276.3,"v":6825.2},{"s":2,"k":277.7,"v":6827.1},{"s":2,"k":279.4,"v":6828.8},{"s":2,"k":281.6,"v":6830.1},{"s":2,"k":284.2,"v":6831.4},{"s":2,"k":286.8,"v":6832.1},{"s":2,"k":289.7,"v":6832.9},{"s":2,"k":291.2,"v":6833.6},{"s":2,"k":292.2,"v":6835},{"s":2,"k":293.1,"v":6836.1},{"s":2,"k":294,"v":6837.2},{"s":2,"k":295.1,"v":6839.9},{"s":2,"k":296,"v":6842.3},{"s":2,"k":297,"v":6841},{"s":2,"k":298.1,"v":6839.4},{"s":2,"k":299.1,"v":6837.8},{"s":2,"k":300.1,"v":6835.6},{"s":2,"k":301.1,"v":6832.5},{"s":2,"k":302.1,"v":6830.4},{"s":2,"k":303.1,"v":6828.8},{"s":2,"k":304.1,"v":6828},{"s":2,"k":305.1,"v":6827.4},{"s":2,"k":306.1,"v":6826.7},{"s":2,"k":307.1,"v":6825.8},{"s":2,"k":308.1,"v":6825.2},{"s":2,"k":309,"v":6823.8},{"s":2,"k":310,"v":6823.1},{"s":2,"k":311,"v":6824.7},{"s":2,"k":312,"v":6826.3},{"s":2,"k":313.1,"v":6828},{"s":2,"k":314.1,"v":6830.1},{"s":2,"k":315.1,"v":6831.8},{"s":2,"k":316.1,"v":6831.5},{"s":2,"k":318,"v":6830.8},{"s":2,"k":320,"v":6830},{"s":2,"k":322,"v":6829.7},{"s":2,"k":324,"v":6828.6},{"s":2,"k":326,"v":6827.2},{"s":2,"k":327,"v":6826.7},{"s":2,"k":328,"v":6827.2},{"s":2,"k":329,"v":6828.1},{"s":2,"k":330,"v":6829.7},{"s":2,"k":331,"v":6831.6},{"s":2,"k":332,"v":6833.2},{"s":2,"k":333,"v":6834.9},{"s":2,"k":334,"v":6837},{"s":2,"k":335,"v":6837.4},{"s":2,"k":335.9,"v":6836.3},{"s":2,"k":337,"v":6835.7},{"s":2,"k":338,"v":6835.5},{"s":2,"k":338.9,"v":6836.8},{"s":2,"k":339.9,"v":6837},{"s":2,"k":340.9,"v":6837.7},{"s":2,"k":341.9,"v":6838.5},{"s":2,"k":342.9,"v":6839.6},{"s":2,"k":343.9,"v":6840.6},{"s":2,"k":345,"v":6842},{"s":2,"k":346,"v":6843.4},{"s":2,"k":347,"v":6844.5},{"s":2,"k":348,"v":6845.2},{"s":2,"k":348.9,"v":6845.9},{"s":2,"k":350,"v":6846.4},{"s":2,"k":350.9,"v":6846.9},{"s":2,"k":351.9,"v":6847.4},{"s":2,"k":353,"v":6847.7},{"s":2,"k":354,"v":6848.3},{"s":2,"k":354.9,"v":6849},{"s":2,"k":356,"v":6849.7},{"s":2,"k":357,"v":6848.3},{"s":2,"k":357.9,"v":6847.7},{"s":2,"k":359,"v":6848},{"s":2,"k":360,"v":6849.7},{"s":2,"k":360.9,"v":6851.6},{"s":2,"k":361.9,"v":6853},{"s":2,"k":362.9,"v":6854.1},{"s":2,"k":363.9,"v":6855.4},{"s":2,"k":365,"v":6855.6},{"s":2,"k":365.9,"v":6855.9},{"s":2,"k":367,"v":6856.7},{"s":2,"k":367.9,"v":6857},{"s":2,"k":368.9,"v":6857.5},{"s":2,"k":370,"v":6857.9},{"s":2,"k":370.9,"v":6858.3},{"s":2,"k":371.9,"v":6858.9},{"s":2,"k":373,"v":6859.5},{"s":2,"k":373.9,"v":6859.7},{"s":2,"k":374.9,"v":6860.3},{"s":2,"k":375.9,"v":6860.6},{"s":2,"k":376.9,"v":6860.8},{"s":2,"k":377.9,"v":6861.1},{"s":2,"k":379,"v":6861.9},{"s":2,"k":379.37,"v":6862.2}
]
},
"layer": [
{"data": {"name": "fine"}, "mark": {"type": "rule", "color": "#2b2b2b", "strokeWidth": 1, "strokeDash": [3, 3]},
 "encoding": {"x": {"field": "k", "type": "quantitative", "scale": {"domain": [-0.59, 379.37], "nice": false, "zero": false}}}},
{"data": {"name": "days"}, "mark": {"type": "rule", "color": "#4a4a4a", "strokeWidth": 1, "strokeDash": [6, 4]},
 "encoding": {"x": {"field": "k", "type": "quantitative", "scale": {"domain": [-0.59, 379.37], "nice": false, "zero": false}}}},
{"data": {"values": [{"p": 6862.5}]}, "mark": {"type": "rule", "color": "#5e5e5e", "strokeWidth": 1, "strokeDash": [6, 3]},
 "encoding": {"y": {"field": "p", "type": "quantitative", "scale": {"domain": [6499.06, 6921.94], "nice": false, "zero": false}}}},
{"data": {"name": "ohlc"}, "mark": {"type": "rule", "color": "#ffffff", "strokeWidth": 1},
 "encoding": {
  "x": {"field": "k", "type": "quantitative", "scale": {"domain": [-0.59, 379.37], "nice": false, "zero": false},
   "axis": {"title": null, "grid": false, "ticks": false, "tickCount": 200, "domainColor": "#7d7d7d", "labelFlush": false, "labelOverlap": false, "labelPadding": 3, "labelBaseline": "top",
    "labelFont": "DejaVu Sans Condensed, Liberation Sans Narrow, DejaVu Sans", "labelFontSize": 13, "labelColor": "#e8e8e8",
    "labelFontWeight": {"condition": {"test": "indexof(xl[''+datum.value], ':') < 0", "value": "bold"}, "value": "normal"},
    "values": [3.44,11.5,19.56,26.61,34.67,42.73,49.78,57.84,65.9,72.95,81.01,89.06,96.11,104.17,112.23,119.28,127.34,135.4,142.45,150.51,158.57,165.62,173.68,181.73,188.79,196.85,204.9,211.95,220.01,228.07,235.12,243.18,251.24,258.29,266.35,274.41,281.46,289.52,300.6,308.66,316.71,323.77,331.82,339.88,346.93,354.99,363.05,370.1],
    "labelExpr": "xl[''+datum.value]"}},
  "y": {"field": "l", "type": "quantitative", "scale": {"domain": [6499.06, 6921.94], "nice": false, "zero": false},
   "axis": {"title": null, "orient": "right", "grid": true, "gridColor": "#2b2b2b", "gridDash": [3, 3], "ticks": false, "tickCount": 200, "domainColor": "#7d7d7d", "labelPadding": 6, "labelFlush": false, "labelOverlap": false,
    "labelFont": "DejaVu Sans", "labelFontSize": 11, "labelColor": "#e8e8e8", "format": ".2f",
    "values": [6506.25,6512.5,6518.75,6525,6531.25,6537.5,6543.75,6550,6556.25,6562.5,6568.75,6575,6581.25,6587.5,6593.75,6600,6606.25,6612.5,6618.75,6625,6631.25,6637.5,6643.75,6650,6656.25,6662.5,6668.75,6675,6681.25,6687.5,6693.75,6700,6706.25,6712.5,6718.75,6725,6731.25,6737.5,6743.75,6750,6756.25,6762.5,6768.75,6775,6781.25,6787.5,6793.75,6800,6806.25,6812.5,6818.75,6825,6831.25,6837.5,6843.75,6850,6856.25,6862.5,6868.75,6875,6881.25,6887.5,6893.75,6900,6906.25,6912.5,6918.75]}},
  "y2": {"field": "h"}}},
{"data": {"name": "ohlc"}, "mark": {"type": "bar", "size": 3.5, "strokeWidth": 1.5},
 "encoding": {
  "x": {"field": "k", "type": "quantitative", "scale": {"domain": [-0.59, 379.37], "nice": false, "zero": false}},
  "y": {"field": "o", "type": "quantitative", "scale": {"domain": [6499.06, 6921.94], "nice": false, "zero": false}},
  "y2": {"field": "c"},
  "color": {"condition": [{"test": "datum.h == datum.l", "value": "#8c8c8c"}, {"test": "datum.c == datum.o", "value": "#ffff00"}, {"test": "datum.c > datum.o", "value": "#0aa00a"}], "value": "#d80000"},
  "stroke": {"condition": [{"test": "datum.h == datum.l", "value": "#8c8c8c"}, {"test": "datum.c == datum.o", "value": "#ffff00"}, {"test": "datum.c > datum.o", "value": "#0aa00a"}], "value": "#d80000"}}},
{"data": {"name": "ma"}, "mark": {"type": "line", "color": "#d8d400", "strokeWidth": 1.4},
 "encoding": {
  "x": {"field": "k", "type": "quantitative", "scale": {"domain": [-0.59, 379.37], "nice": false, "zero": false}},
  "y": {"field": "v", "type": "quantitative", "scale": {"domain": [6499.06, 6921.94], "nice": false, "zero": false}},
  "detail": {"field": "s", "type": "nominal"}}},
{"data": {"name": "trend"}, "mark": {"type": "line", "color": "#1e98ea", "strokeWidth": 5, "strokeCap": "butt", "clip": false},
 "encoding": {
  "x": {"field": "k", "type": "quantitative", "scale": {"domain": [-0.59, 379.37], "nice": false, "zero": false}},
  "y": {"field": "p", "type": "quantitative", "scale": {"domain": [6499.06, 6921.94], "nice": false, "zero": false}},
  "detail": {"field": "g", "type": "nominal"}}}
]
}
